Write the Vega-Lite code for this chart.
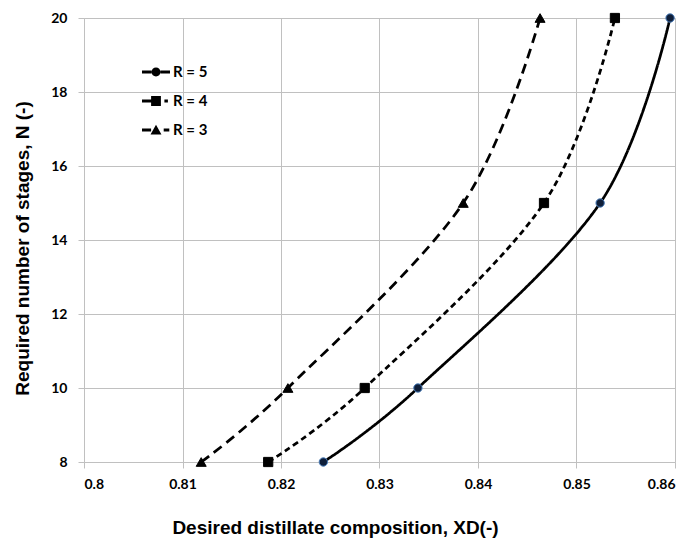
{
  "$schema": "https://vega.github.io/schema/vega-lite/v6.json",
  "width": 591,
  "height": 444,
  "autosize": {"type": "none"},
  "padding": {"left": 84, "top": 18, "right": 16, "bottom": 77},
  "background": "white",
  "config": {
    "view": {"stroke": null},
    "axis": {
      "gridColor": "#c0c0c0",
      "gridWidth": 1,
      "domainColor": "#c0c0c0",
      "tickColor": "#c0c0c0",
      "tickSize": 6,
      "labelFont": "Lato",
      "labelFontWeight": "bold",
      "labelFontSize": 14,
      "labelColor": "#000000",
      "titleFont": "Liberation Sans",
      "titleFontWeight": "bold",
      "titleFontSize": 19,
      "titleColor": "#000000"
    }
  },
  "datasets": {
    "curves": [
      {"R": "R = 5", "XD": 0.8243, "N": 8},
      {"R": "R = 5", "XD": 0.8339, "N": 10},
      {"R": "R = 5", "XD": 0.8524, "N": 15},
      {"R": "R = 5", "XD": 0.8595, "N": 20},
      {"R": "R = 4", "XD": 0.8187, "N": 8},
      {"R": "R = 4", "XD": 0.8285, "N": 10},
      {"R": "R = 4", "XD": 0.8467, "N": 15},
      {"R": "R = 4", "XD": 0.8539, "N": 20},
      {"R": "R = 3", "XD": 0.8119, "N": 8},
      {"R": "R = 3", "XD": 0.8207, "N": 10},
      {"R": "R = 3", "XD": 0.8385, "N": 15},
      {"R": "R = 3", "XD": 0.8463, "N": 20}
    ],
    "legendrows": [
      {"L": "R = 5"},
      {"L": "R = 4"},
      {"L": "R = 3"}
    ]
  },
  "layer": [
    {
      "data": {"name": "curves"},
      "mark": {"type": "line", "interpolate": "cardinal", "color": "black", "strokeWidth": 2.75},
      "encoding": {
        "x": {
          "field": "XD", "type": "quantitative",
          "scale": {"domain": [0.8, 0.86], "nice": false, "zero": false},
          "axis": {
            "values": [0.8, 0.81, 0.82, 0.83, 0.84, 0.85, 0.86],
            "format": ".2~f",
            "labelPadding": 9,
            "title": "Desired distillate composition, XD(-)",
            "titleX": 251,
            "titleY": 65,
            "titleAlign": "center",
            "titleBaseline": "middle",
            "titleAnchor": null
          }
        },
        "y": {
          "field": "N", "type": "quantitative",
          "scale": {"domain": [8, 20], "nice": false, "zero": false},
          "axis": {
            "values": [8, 10, 12, 14, 16, 18, 20],
            "labelPadding": 11,
            "title": "Required number of stages, N (-)",
            "titleX": -62,
            "titleY": 230,
            "titleAngle": -90,
            "titleAlign": "center",
            "titleBaseline": "middle",
            "titleAnchor": null
          }
        },
        "strokeDash": {
          "field": "R", "type": "nominal",
          "scale": {"domain": ["R = 5", "R = 4", "R = 3"], "range": [[1, 0], [6, 4], [10, 6]]},
          "legend": null
        },
        "detail": {"field": "R"}
      }
    },
    {
      "data": {"name": "curves"},
      "mark": {"type": "point", "filled": true, "opacity": 1, "strokeWidth": 1},
      "encoding": {
        "x": {"field": "XD", "type": "quantitative"},
        "y": {"field": "N", "type": "quantitative"},
        "shape": {
          "field": "R", "type": "nominal",
          "scale": {"domain": ["R = 5", "R = 4", "R = 3"], "range": ["circle", "square", "triangle-up"]},
          "legend": null
        },
        "size": {
          "field": "R", "type": "nominal",
          "scale": {"domain": ["R = 5", "R = 4", "R = 3"], "range": [70, 100, 95]},
          "legend": null
        },
        "color": {
          "field": "R", "type": "nominal",
          "scale": {"domain": ["R = 5", "R = 4", "R = 3"], "range": ["#0f1f3a", "#000000", "#000000"]},
          "legend": null
        },
        "stroke": {
          "field": "R", "type": "nominal",
          "scale": {"domain": ["R = 5", "R = 4", "R = 3"], "range": ["#4a7ebb", "#000000", "#000000"]},
          "legend": null
        }
      }
    },
    {
      "data": {"name": "legendrows"},
      "mark": {"type": "point", "filled": true, "opacity": 0, "size": 784, "color": "black"},
      "encoding": {
        "shape": {
          "field": "L", "type": "nominal",
          "scale": {
            "domain": ["R = 5", "R = 4", "R = 3"],
            "range": [
              "M-1,-0.1H-0.32V0.1H-1Z M0.32,-0.1H1V0.1H0.32Z M-0.32,0A0.32,0.32 0 1,1 0.32,0A0.32,0.32 0 1,1 -0.32,0Z",
              "M-1,-0.1H-0.35V0.1H-1Z M-0.35,-0.35H0.35V0.35H-0.35Z M0.6,-0.1H0.85V0.1H0.6Z",
              "M-1,-0.1H-0.35V0.1H-1Z M-0.39,0.33L0,-0.37L0.39,0.33Z M0.55,-0.1H0.95V0.1H0.55Z"
            ]
          },
          "legend": {
            "title": null,
            "orient": "none",
            "legendX": 58,
            "legendY": 40,
            "padding": 0,
            "rowPadding": 7,
            "symbolSize": 784,
            "symbolOpacity": 1,
            "symbolFillColor": "black",
            "symbolStrokeWidth": 0,
            "labelOffset": 3,
            "labelFont": "Lato",
            "labelFontWeight": "bold",
            "labelFontSize": 15,
            "labelColor": "#000000"
          }
        }
      }
    }
  ],
  "resolve": {"scale": {"shape": "independent", "size": "independent", "color": "independent", "stroke": "independent"}, "legend": {"shape": "independent"}}
}
